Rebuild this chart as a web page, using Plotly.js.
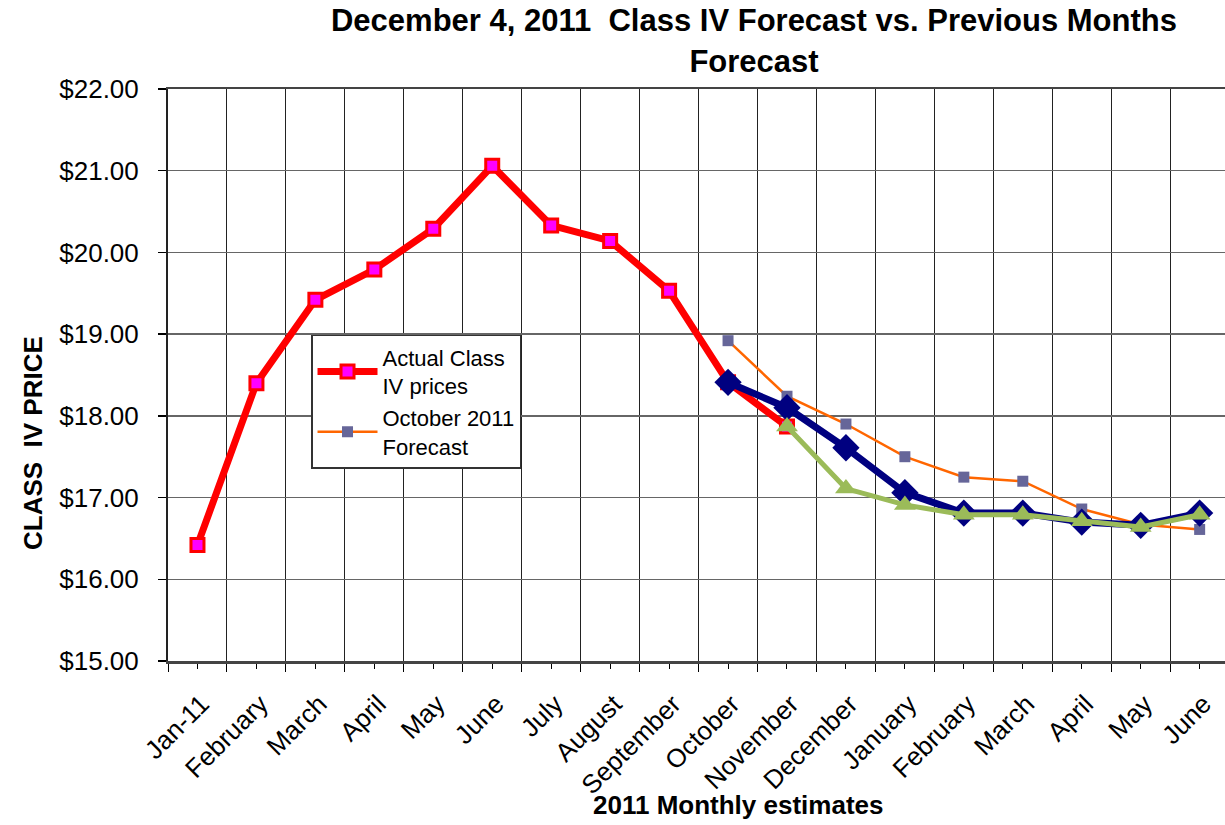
<!DOCTYPE html>
<html>
<head>
<meta charset="utf-8">
<script src="https://cdn.plot.ly/plotly-3.0.1.min.js"></script>
<style>
  html, body { margin: 0; padding: 0; background: #fff; overflow: hidden; }
  #chart { width: 1225px; height: 825px; }
</style>
</head>
<body>
<div id="chart"></div>
<script>
// ---- Data ----
const categories = ['Jan-11', 'February', 'March', 'April', 'May', 'June', 'July', 'August',
  'September', 'October', 'November', 'December', 'January', 'February', 'March', 'April', 'May', 'June'];

const actualPrices = [16.42, 18.40, 19.42, 19.79, 20.29, 21.06, 20.33, 20.14, 19.53, 18.41, 17.87,
  null, null, null, null, null, null, null];

const october2011Forecast = [null, null, null, null, null, null, null, null, null,
  18.92, 18.24, 17.90, 17.50, 17.25, 17.20, 16.86, 16.67, 16.61];

const november2011Forecast = [null, null, null, null, null, null, null, null, null,
  18.41, 18.10, 17.61, 17.06, 16.81, 16.81, 16.70, 16.66, 16.81];

const december2011Forecast = [null, null, null, null, null, null, null, null, null,
  null, 17.87, 17.11, 16.91, 16.79, 16.79, 16.71, 16.64, 16.79];

const titleText = 'December 4, 2011\u00a0 Class IV Forecast vs. Previous Months<br>Forecast';
const yTitle = 'CLASS\u00a0 IV PRICE';
const xTitle = '2011 Monthly estimates';

// ---- Build ----
const xIdx = categories.map((c, i) => i);
const boundaries = categories.map((c, i) => i - 0.5);

const FONT = 'Liberation Sans, Arial, sans-serif';

const traces = [
  {
    x: xIdx, y: actualPrices, name: 'Actual Class<br>IV prices', type: 'scatter', mode: 'lines+markers',
    line: { color: '#FF0000', width: 7 },
    marker: { symbol: 'square', size: 13, color: '#FF00FF', line: { color: '#FF0000', width: 3 } },
    connectgaps: false
  },
  {
    x: xIdx, y: october2011Forecast, name: 'October 2011<br>Forecast', type: 'scatter', mode: 'lines+markers',
    line: { color: '#FF6600', width: 2.5 },
    marker: { symbol: 'square', size: 11, color: '#666699' }
  },
  {
    x: xIdx, y: november2011Forecast, name: 'November 2011 Forecast', type: 'scatter', mode: 'lines+markers',
    showlegend: false,
    line: { color: '#000080', width: 7 },
    marker: { symbol: 'diamond', size: 21, color: '#000080' }
  },
  {
    x: xIdx, y: december2011Forecast, name: 'December 2011 Forecast', type: 'scatter', mode: 'lines+markers',
    showlegend: false,
    line: { color: '#9BBB59', width: 5 },
    marker: { symbol: 'triangle-up', size: 19, color: '#9BBB59' }
  }
];

const layout = {
  width: 1225, height: 825,
  margin: { l: 168, r: 0, t: 89, b: 164 },
  paper_bgcolor: '#ffffff', plot_bgcolor: '#ffffff',
  font: { family: FONT, color: '#000000' },
  title: {
    text: titleText,
    font: { family: FONT, size: 31, color: '#000000', weight: 'bold' },
    x: 754 / 1225, xanchor: 'center', xref: 'container',
    y: 0.962, yanchor: 'top', yref: 'container'
  },
  showlegend: true,
  legend: {
    x: 0.1353, y: 0.570, xanchor: 'left', yanchor: 'top',
    bgcolor: '#ffffff', bordercolor: '#333333', borderwidth: 1.5,
    font: { family: FONT, size: 22, color: '#000000' },
    itemwidth: 60,
    tracegroupgap: 4
  },
  xaxis: {
    range: [-0.5, 17.43],
    tickmode: 'array', tickvals: xIdx, ticktext: categories,
    tickangle: -45,
    tickfont: { family: FONT, size: 26, color: '#000000' },
    ticks: 'outside', ticklen: 5, tickwidth: 1, tickcolor: '#000000',
    ticklabelstandoff: 10, ticklabelshift: 4,
    showgrid: false,
    minor: {
      tickmode: 'array', tickvals: boundaries,
      showgrid: true, gridcolor: '#222222', gridwidth: 1,
      ticks: 'outside', ticklen: 8, tickcolor: '#000000', tickwidth: 1
    },
    showline: true, linecolor: '#444444', linewidth: 2.5, mirror: true,
    zeroline: false, fixedrange: true
  },
  yaxis: {
    range: [15, 22], tickmode: 'linear', tick0: 15, dtick: 1,
    tickformat: '$.2f',
    tickfont: { family: FONT, size: 26, color: '#000000' },
    ticks: 'outside', ticklen: 8, tickwidth: 1.5, tickcolor: '#000000',
    showgrid: true, gridcolor: '#666666', gridwidth: 1.5,
    showline: true, linecolor: '#222222', linewidth: 2,
    zeroline: false, fixedrange: true, ticklabelstandoff: 14
  },
  annotations: [
    {
      text: yTitle, xref: 'paper', yref: 'paper',
      x: (33 - 168) / 1057, y: (661 - 443) / 572, xanchor: 'center', yanchor: 'middle',
      textangle: -90, showarrow: false,
      font: { family: FONT, size: 26, color: '#000000', weight: 'bold' }
    },
    {
      text: xTitle, xref: 'paper', yref: 'paper',
      x: (738 - 168) / 1057, y: (661 - 805) / 572, xanchor: 'center', yanchor: 'middle',
      showarrow: false,
      font: { family: FONT, size: 26, color: '#000000', weight: 'bold' }
    }
  ]
};

Plotly.newPlot('chart', traces, layout, { displayModeBar: false, staticPlot: true });
</script>
</body>
</html>
